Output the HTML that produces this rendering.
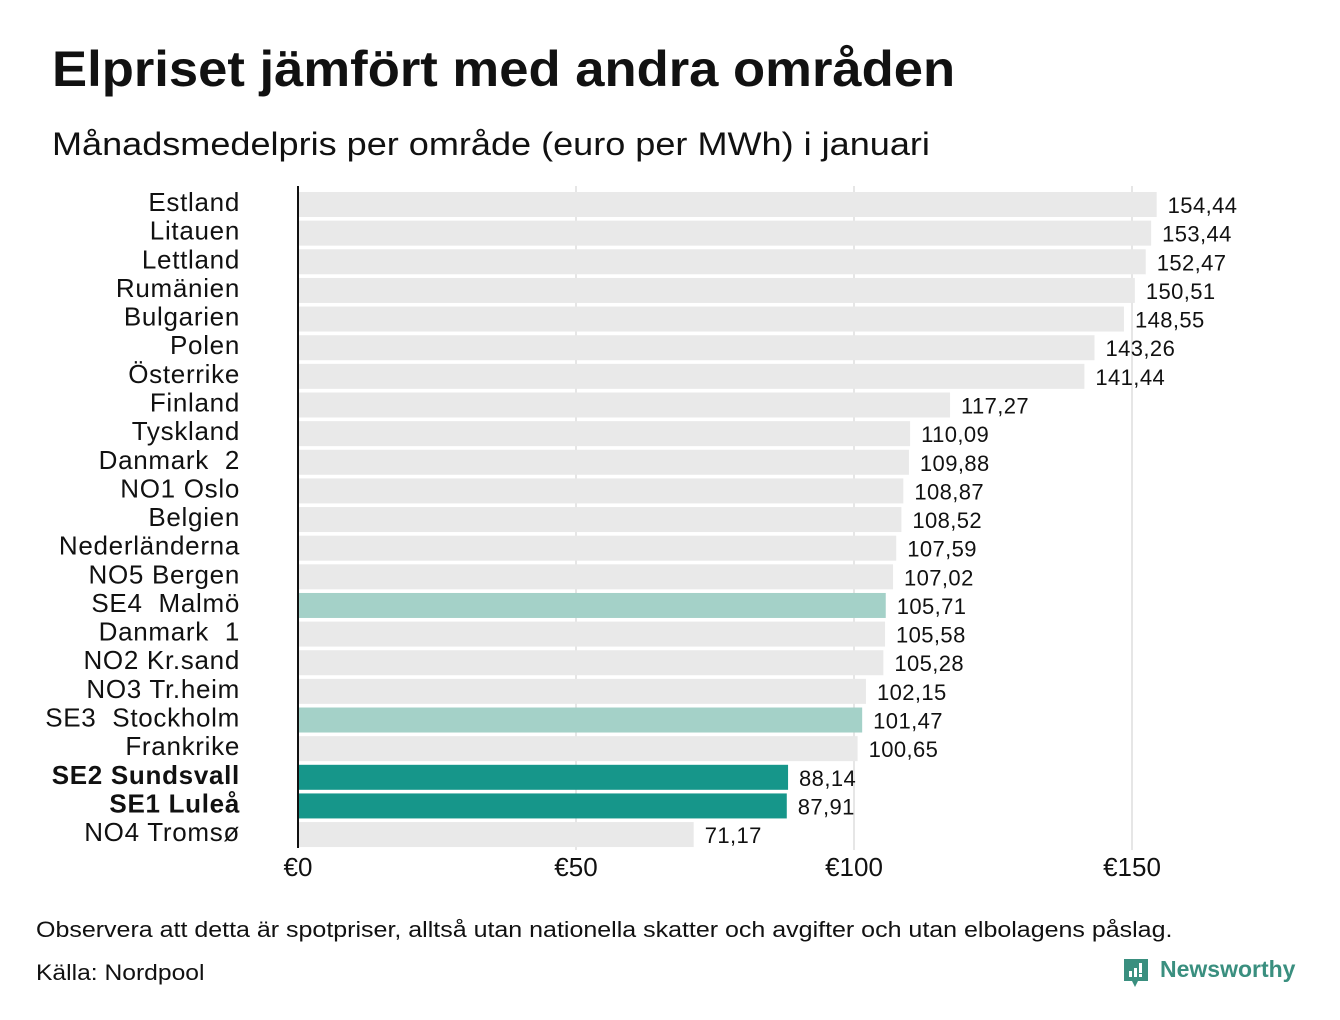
<!DOCTYPE html>
<html><head><meta charset="utf-8">
<style>
body{margin:0;width:1340px;height:1020px;background:#fff;font-family:"Liberation Sans","DejaVu Sans",sans-serif;overflow:hidden;position:relative;color:#111}
.t{position:absolute;white-space:nowrap;transform-origin:left top}
</style></head>
<body>
<div class="t" style="left:52px;top:40px;font-size:50px;font-weight:bold;transform:scaleX(1.052);">Elpriset jämfört med andra områden</div>
<div class="t" style="left:52px;top:126px;font-size:32px;transform:scaleX(1.127);">Månadsmedelpris per område (euro per MWh) i januari</div>
<svg id="chart" width="1340" height="900" style="position:absolute;left:0;top:0"></svg>
<div class="t" style="left:36px;top:917px;font-size:22px;transform:scaleX(1.136);">Observera att detta är spotpriser, alltså utan nationella skatter och avgifter och utan elbolagens påslag.</div>
<div class="t" style="left:36px;top:960px;font-size:22px;transform:scaleX(1.12);">Källa: Nordpool</div>
<div style="position:absolute;left:1122px;top:956px;">
<svg width="30" height="34" style="position:absolute;left:0;top:0"><path d="M2 3h24v22h-10l-3 6-3-6h-8z" fill="#3a8f7f"/><rect x="7" y="15" width="3" height="6" fill="#fff"/><rect x="12" y="12" width="3" height="9" fill="#fff"/><rect x="17" y="7" width="3" height="10" fill="#fff"/><rect x="17" y="18" width="3" height="3" fill="#fff"/></svg>
<div class="t" style="left:38px;top:0px;font-size:23px;font-weight:bold;color:#3a8f7f;">Newsworthy</div>
</div>
<script>
const categories=["Estland","Litauen","Lettland","Rumänien","Bulgarien","Polen","Österrike","Finland","Tyskland","Danmark  2","NO1 Oslo","Belgien","Nederländerna","NO5 Bergen","SE4  Malmö","Danmark  1","NO2 Kr.sand","NO3 Tr.heim","SE3  Stockholm","Frankrike","SE2 Sundsvall","SE1 Luleå","NO4 Tromsø"];
const values=[154.44,153.44,152.47,150.51,148.55,143.26,141.44,117.27,110.09,109.88,108.87,108.52,107.59,107.02,105.71,105.58,105.28,102.15,101.47,100.65,88.14,87.91,71.17];
const highlight=["none","none","none","none","none","none","none","none","none","none","none","none","none","none","light","none","none","none","light","none","strong","strong","none"];
const ticks=[0,50,100,150];
const tickLabels=["€0","€50","€100","€150"];
const NS="http://www.w3.org/2000/svg";
const svg=document.getElementById('chart');
const x0=298,pxPer=(1132-298)/150,top0=192,pitch=28.64,bh=25;
const xs=v=>x0+v*pxPer;
const ys=i=>top0+i*pitch;
function mk(t,a){const e=document.createElementNS(NS,t);for(const k in a)e.setAttribute(k,a[k]);svg.appendChild(e);return e;}
ticks.forEach((t,i)=>{
 if(t>0){const g=mk('line',{x1:xs(t),x2:xs(t),y1:186,y2:850,stroke:'#ccc','stroke-width':1});
 
 }
 const l=mk('text',{x:xs(t),y:876,'text-anchor':'middle','font-size':26,fill:'#111','font-family':'Liberation Sans, sans-serif'});
 l.textContent=tickLabels[i];
 
 
});
const fills={none:'#e9e9e9',light:'#a4d1c8',strong:'#16968a'};
values.forEach((v,i)=>{
 const r=mk('rect',{x:x0,y:ys(i),width:xs(v)-x0,height:bh,fill:fills[highlight[i]]});
 
 
 const vl=mk('text',{x:xs(v)+11,y:ys(i)+21,'font-size':22,'letter-spacing':0.4,fill:'#111','font-family':'Liberation Sans, sans-serif'});
 vl.textContent=v.toFixed(2).replace('.',',');
 
 
 const cl=mk('text',{x:240,y:ys(i)+19,'text-anchor':'end','font-size':26,'letter-spacing':0.7,fill:'#111','font-family':'Liberation Sans, sans-serif','font-weight':highlight[i]==='strong'?'bold':'normal'});
 cl.textContent=categories[i];
 cl.style.whiteSpace='pre';
 
 
});
const ax=mk('line',{x1:x0,x2:x0,y1:186,y2:848,stroke:'#111','stroke-width':2});


</script>
</body></html>
